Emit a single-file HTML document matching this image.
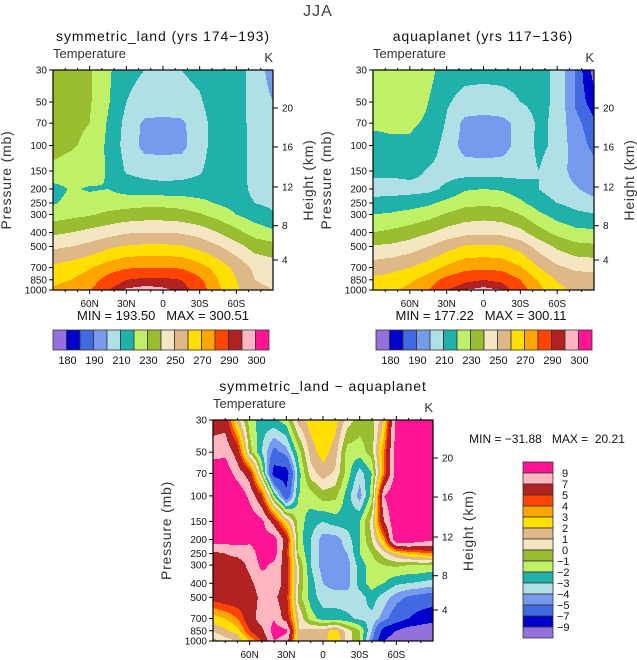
<!DOCTYPE html>
<html><head><meta charset="utf-8">
<style>
html,body{margin:0;padding:0;background:#fff;}
svg{display:block;font-family:"Liberation Sans",sans-serif;}
text{white-space:pre;}
</style></head>
<body>
<svg id="root" width="637" height="660" viewBox="0 0 637 660" xmlns="http://www.w3.org/2000/svg">
<text x="318" y="16" font-size="16" fill="#444" text-anchor="middle" letter-spacing="1">JJA</text>
</svg>
<script>
// ---------- data ----------
const latCoarse = [90,75,60,45,30,15,0,-15,-30,-45,-60,-75,-90];
const latFine = [90,80,70,60,50,40,30,20,10,0,-10,-20,-30,-40,-50,-60,-70,-80,-90];
const pressureLevels = [30,50,70,100,150,200,250,300,400,500,700,850,1000];
const pressureTicks = [30,50,70,100,150,200,250,300,400,500,700,850,1000];
const heightTicks = [20,16,12,8,4];
const heightOffsets = [38,77,117,155.7,190];
const latTicks = [60,30,0,-30,-60];
const latTickLabels = ["60N","30N","0","30S","60S"];
const tempLevels = [180,185,190,200,210,220,230,240,250,260,270,280,290,295,300];
const tempLabels = ["180","190","210","230","250","270","290","300"];
const diffLevels = [-9,-7,-5,-4,-3,-2,-1,0,1,2,3,4,5,7,9];
const diffLabels = ["9","7","5","4","3","2","1","0","\u22121","\u22122","\u22123","\u22124","\u22125","\u22127","\u22129"];
const palette = ["#9370db","#0000cd","#4169e1","#7799ee","#b0e0e6","#20b2aa","#c0f065","#9abd32","#f5e6c2","#deb887","#ffdf00","#ffa500","#ff4500","#b22222","#ffb6c1","#ff1493"];

const symLand = [
[236,233,231,222,212,210,209,210,212,215,215,205,196],
[236,233,231,221,210,207,207,207,209,215,215,205,200],
[235,232,230,219,207,198,197,198,206,215,215,206,204],
[233,231,228,218,206,197,197,197,206,215,215,206,205],
[228,226,225,219,209,206,205,206,209,215,215,206,206],
[216,221,219,220,216,215,214,214,214,215,215,207,207],
[219,223,224,225,226,227,227,226,223,219,216,210,208],
[225,227,229,232,234,235,235,234,231,226,220,215,211],
[238,240,243,246,249,250,250,249,246,240,233,226,222],
[248,250,253,258,261,262,262,261,257,251,244,236,234],
[262,265,269,275,279,280,280,279,274,266,257,248,245],
[268,270,275,284,290,292,292,290,282,270,260,250,248],
[271,274,279,290,296,297,296,294,286,272,262,252,250]];

const aqua = [
[226,227,229,224,214,213,213,213,213,213,208,189,178],
[225,225,224,220,211,207,206,207,210,213,208,189,182],
[222,222,221,219,209,197,196,197,203,212,208,192,186],
[216,218,219,216,206,196,195,196,204,212,208,194,188],
[213,213,214,209,206,205,205,205,206,210,205,196,193],
[205,205,206,207,212,219,220,219,215,210,205,201,196],
[214,215,216,218,223,227,228,227,222,215,210,207,203],
[220,221,223,226,231,235,236,235,230,222,216,212,211],
[230,232,235,239,244,247,248,247,243,234,227,223,222],
[241,242,245,250,256,261,262,261,256,246,238,233,232],
[255,257,260,265,272,277,278,277,271,260,252,248,247],
[262,264,268,275,283,288,290,288,280,269,259,255,255],
[265,268,273,280,290,295,297,295,285,273,263,258,258]];

const diff = [
[6,6,1.5,-1.5,-2.5,-2.2,-1.5,1.5,2.5,2.7,2.5,0.5,-0.5,-0.5,2,10,11,11,11],
[8,8.5,6,-0.5,-3,-5.5,-4.5,-1.5,1.5,2.5,1.5,-1.5,-1.5,-0.5,4,10,11,11,11],
[11,10.5,8,6,-1,-8,-8,-2.5,0.5,1.5,0.8,-1.5,-3.5,-2,4,10,11,11,11],
[11,11,11,8.5,5,-2,-6.5,-2,-1.5,-0.5,-0.7,-2.5,-4.5,-1.5,9,11,11,11,11],
[11,11,11,10.5,9.5,6,2,-1.5,-2.5,-3,-2.5,-2.5,-2,0.5,7,11,11,11,11],
[10,10,10,9.5,10,10,6,-1.5,-3,-4.5,-4.5,-3.5,-2,0,3.5,11,11,10,9.5],
[6.5,7,7.5,8,10,10,5.5,-1,-3,-4.5,-4.5,-4,-2,-1,0.5,2,3,3.5,4],
[6,6,6,7.5,9.5,8.5,6,0,-3,-4.5,-4.5,-4.5,-2.5,-1.5,-1,-0.8,-1,-1,-1.2],
[6,6,6,6.5,8,8.5,6,0,-2.5,-4,-4.5,-4.5,-2.5,-1.5,-2,-2.8,-3,-3.2,-3.5],
[5.5,6,6,6,7.5,7.5,5.5,-0.5,-2.5,-3.5,-3.5,-3.5,-3.5,-2.5,-3.5,-4.5,-5.2,-5.5,-5.8],
[2.5,3,4,6,8,8.8,6,1,-1.5,-2.5,-2.5,-2.8,-3.2,-3.3,-4.5,-6,-7,-8,-8.5],
[1.2,1.8,2.5,5,6.5,10,9.5,1,1.5,1.5,2.5,0.5,-1,-4,-8,-9,-10,-10,-10],
[-0.5,0.5,1,3,5,9,8,1,1,1.5,3,0.5,-1,-5,-9,-10,-10,-10,-10]];

// ---------- helpers ----------
const NS="http://www.w3.org/2000/svg";
const root=document.getElementById('root');
function mk(tag,attrs,parent){const e=document.createElementNS(NS,tag);for(const k in attrs)e.setAttribute(k,attrs[k]);(parent||root).appendChild(e);return e;}
const L30=Math.log10(30),L1000=Math.log10(1000);
function yOfP(p,y0,H){return y0+(Math.log10(p)-L30)/(L1000-L30)*H;}
function xOfLat(lat,x0,W){return x0+(90-lat)/180*W;}
function classify(v,levels){let i=0;while(i<levels.length&&v>=levels[i])i++;return i;}
function sample(grid,lats,lat,lp){
  let ci=0;while(ci<lats.length-2&&lat<lats[ci+1])ci++;
  let tx=(lats[ci]-lat)/(lats[ci]-lats[ci+1]);tx=Math.max(0,Math.min(1,tx));
  let ri=0;while(ri<pressureLevels.length-2&&lp>Math.log10(pressureLevels[ri+1]))ri++;
  const a=Math.log10(pressureLevels[ri]),b=Math.log10(pressureLevels[ri+1]);
  let ty=(lp-a)/(b-a);ty=Math.max(0,Math.min(1,ty));
  const v00=grid[ri][ci],v01=grid[ri][ci+1],v10=grid[ri+1][ci],v11=grid[ri+1][ci+1];
  return (v00*(1-tx)+v01*tx)*(1-ty)+(v10*(1-tx)+v11*tx)*ty;
}
function emitRun(g,x,y,w,h,c){
  const r=mk('rect',{x:x.toFixed(2),y:y.toFixed(2),width:(w+0.4).toFixed(2),height:(h+0.4).toFixed(2),fill:palette[c]},g);
  
  
}
function drawField(g,grid,lats,levels,x0,y0,W,H){
  const s=1;
  const nx=Math.ceil(W/s),ny=Math.ceil(H/s);
  for(let j=0;j<ny;j++){
    const y=y0+j*s;
    const lp=L30+((j*s+s/2)/H)*(L1000-L30);
    let runStart=0,runC=-1;
    for(let i=0;i<=nx;i++){
      let c=-1;
      if(i<nx){const lat=90-((i*s+s/2)/W)*180;c=classify(sample(grid,lats,lat,lp),levels);}
      if(c!==runC){
        if(runC>=0) emitRun(g,x0+runStart*s,y,(i-runStart)*s,s,runC);
        runStart=i;runC=c;
      }
    }
  }
}
function txt(x,y,s,size,anchor,name,parent,extra){const t=mk('text',Object.assign({x:x,y:y,'font-size':size,'text-anchor':anchor||'start',fill:'#111'},extra||{}),parent);t.textContent=s;return t;}

function panel(opt){
  const g=mk('g',{});
  
  
  const {x0,y0,W,H}=opt;
  const clipId='clip'+opt.name;
  const cp=mk('clipPath',{id:clipId},g);mk('rect',{x:x0,y:y0,width:W,height:H},cp);
  const field=mk('g',{'clip-path':'url(#'+clipId+')'},g);
  
  
  drawField(field,opt.grid,opt.lats,opt.levels,x0,y0,W,H);
  const frame=mk('rect',{x:x0,y:y0,width:W,height:H,fill:'none',stroke:'#000','stroke-width':1.2},g);
  
  
  for(let lat=80;lat>=-80;lat-=10){
    const x=xOfLat(lat,x0,W);const major=(lat%30===0);const len=major?4:2;
    mk('line',{x1:x,y1:y0,x2:x,y2:y0-len,stroke:'#000','stroke-width':1},g);
    mk('line',{x1:x,y1:y0+H,x2:x,y2:y0+H+len,stroke:'#000','stroke-width':1},g);
  }
  latTicks.forEach((lat,i)=>{txt(xOfLat(lat,x0,W),y0+H+17,latTickLabels[i],10,'middle','x-tick-label',g);});
  pressureTicks.forEach(p=>{const y=yOfP(p,y0,H);mk('line',{x1:x0,y1:y,x2:x0-4,y2:y,stroke:'#000','stroke-width':1},g);
    txt(x0-6,y+3.5,String(p),10,'end','y-tick-label',g);});
  heightTicks.forEach((h,i)=>{const y=y0+heightOffsets[i];mk('line',{x1:x0+W,y1:y,x2:x0+W+5,y2:y,stroke:'#000','stroke-width':1},g);
    txt(x0+W+9,y+3.5,String(h),10,'start','y2-tick-label',g);});
  txt(opt.titleX,y0-29,opt.title,14,'middle','panel-title',g,{'letter-spacing':'0.9'});
  txt(x0,y0-12,'Temperature',13,'start','variable-label',g,{fill:'#333'});
  txt(x0+W,y0-8,'K',13,'end','units-label',g,{fill:'#333'});
  const cy=y0+H/2;
  txt(x0-42,cy,'Pressure (mb)',14,'middle','y-axis-title',g,{transform:'rotate(-90 '+(x0-42)+' '+cy+')',fill:'#333','letter-spacing':'0.8'});
  txt(x0+W+40,cy,'Height (km)',14,'middle','y2-axis-title',g,{transform:'rotate(-90 '+(x0+W+40)+' '+cy+')',fill:'#333','letter-spacing':'0.8'});
  return g;
}

// ---------- panels ----------
panel({name:'panel-symmetric-land',x0:53,y0:70,W:220,H:220,grid:symLand,lats:latCoarse,levels:tempLevels,title:'symmetric_land (yrs 174\u2212193)',titleX:163});
panel({name:'panel-aquaplanet',x0:373,y0:70,W:221,H:220,grid:aqua,lats:latCoarse,levels:tempLevels,title:'aquaplanet (yrs 117\u2212136)',titleX:483});
panel({name:'panel-difference',x0:213,y0:420,W:220,H:221,grid:diff,lats:latFine,levels:diffLevels,title:'symmetric_land \u2212 aquaplanet',titleX:323});

txt(163,320,'MIN = 193.50   MAX = 300.51',13,'middle','min-max-label-1');
txt(481,320,'MIN = 177.22   MAX = 300.11',13,'middle','min-max-label-2');
txt(547,443,'MIN = \u221231.88   MAX =  20.21',12,'middle','min-max-label-3');

function hbar(x0,name){
  const g=mk('g',{});
  
  
  const W=216,bw=W/16;
  palette.forEach((c,i)=>{const r=mk('rect',{x:x0+i*bw,y:330,width:bw,height:20,fill:c,stroke:'#333','stroke-width':0.8},g);
    
    });
  tempLabels.forEach((s,i)=>{txt(x0+(1+2*i)*bw+1,364,s,11,'middle','colorbar-label',g);});
}
hbar(53,'colorbar-symmetric-land');
hbar(376,'colorbar-aquaplanet');
(function(){
  const g=mk('g',{});
  
  
  const y0=462,bh=176/16;
  for(let i=0;i<16;i++){const r=mk('rect',{x:523,y:y0+i*bh,width:30,height:bh,fill:palette[15-i],stroke:'#333','stroke-width':0.8},g);
    
    }
  diffLabels.forEach((s,i)=>{txt(s.charAt(0)==='\u2212'?557:562,y0+(i+1)*bh+4,s,11,'start','colorbar-label',g);});
})();
</script>
</body></html>
